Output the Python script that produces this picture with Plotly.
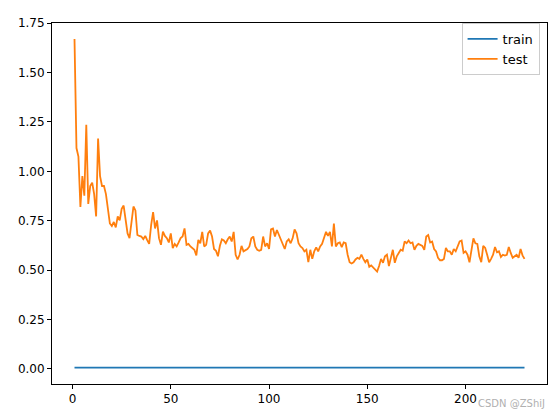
import plotly.graph_objects as go

test_loss = [
    1.67, 1.118, 1.075, 0.82, 0.976, 0.877, 1.236, 0.835, 0.926, 0.943,
    0.885, 0.772, 1.166, 0.976, 0.926, 0.926, 0.885, 0.802, 0.736, 0.723,
    0.744, 0.716, 0.772, 0.752, 0.81, 0.827, 0.761, 0.686, 0.662, 0.761,
    0.822, 0.802, 0.678, 0.673, 0.67, 0.657, 0.673, 0.652, 0.633, 0.728,
    0.794, 0.711, 0.752, 0.662, 0.628, 0.695, 0.673, 0.662, 0.64, 0.686,
    0.612, 0.633, 0.62, 0.64, 0.662, 0.67, 0.711, 0.628, 0.633, 0.62,
    0.612, 0.603, 0.574, 0.653, 0.636, 0.694, 0.62, 0.628, 0.686, 0.70,
    0.67, 0.607, 0.598, 0.57, 0.623, 0.656, 0.65, 0.636, 0.656, 0.67,
    0.645, 0.694, 0.578, 0.554, 0.578, 0.623, 0.595, 0.603, 0.607, 0.62,
    0.661, 0.67, 0.62, 0.603, 0.598, 0.603, 0.67, 0.62, 0.636, 0.607,
    0.706, 0.711, 0.67, 0.703, 0.678, 0.661, 0.628, 0.607, 0.645, 0.656,
    0.636, 0.661, 0.706, 0.686, 0.636, 0.62, 0.612, 0.595, 0.603, 0.54,
    0.603, 0.557, 0.595, 0.615, 0.595, 0.62, 0.633, 0.661, 0.694, 0.673,
    0.694, 0.62, 0.736, 0.62, 0.636, 0.64, 0.617, 0.64, 0.636, 0.578,
    0.54, 0.534, 0.54, 0.554, 0.562, 0.557, 0.578, 0.557, 0.54, 0.554,
    0.517, 0.524, 0.512, 0.501, 0.493, 0.521, 0.557, 0.537, 0.57, 0.578,
    0.521, 0.562, 0.603, 0.537, 0.57, 0.587, 0.603, 0.598, 0.645, 0.636,
    0.65, 0.636, 0.64, 0.603, 0.623, 0.633, 0.628, 0.623, 0.603, 0.67,
    0.678, 0.64, 0.645, 0.607, 0.595, 0.562, 0.55, 0.55, 0.557, 0.612,
    0.595, 0.595, 0.578, 0.607, 0.595, 0.62, 0.645, 0.65, 0.587, 0.595,
    0.578, 0.54, 0.603, 0.661, 0.636, 0.633, 0.57, 0.54, 0.623, 0.612,
    0.578, 0.54, 0.557, 0.578, 0.617, 0.59, 0.595, 0.567, 0.578, 0.574,
    0.578, 0.617, 0.587, 0.562, 0.57, 0.578, 0.562, 0.607, 0.575, 0.557,
]
epochs = list(range(1, len(test_loss) + 1))
train_level = 0.006
train_loss = [train_level for _ in epochs]

x_ticks = [0, 50, 100, 150, 200]
y_ticks = [0.00, 0.25, 0.50, 0.75, 1.00, 1.25, 1.50, 1.75]

fig = go.Figure()
fig.add_trace(go.Scatter(x=epochs, y=train_loss, mode="lines", name="train",
                         line=dict(color="#1f77b4", width=1.8)))
fig.add_trace(go.Scatter(x=epochs, y=test_loss, mode="lines", name="test",
                         line=dict(color="#ff7f0e", width=1.8)))

axis_common = dict(showline=True, linecolor="black", linewidth=1, mirror=True,
                   ticks="outside", ticklen=4, tickwidth=1, tickcolor="black",
                   showgrid=False, zeroline=False,
                   tickfont=dict(family="DejaVu Sans", size=12, color="black"))

fig.update_layout(
    width=548, height=410,
    margin=dict(l=44, r=9, t=8, b=34),
    paper_bgcolor="white", plot_bgcolor="white",
    font=dict(family="DejaVu Sans", size=12, color="black"),
    xaxis=dict(range=[-10.45, 241.45], tickvals=x_ticks, **axis_common),
    yaxis=dict(range=[-0.0764, 1.751], tickvals=y_ticks, tickformat=".2f", **axis_common),
    legend=dict(x=0.985, y=1.0, xanchor="right", yanchor="top",
                bgcolor="rgba(255,255,255,0.8)", bordercolor="#cccccc", borderwidth=1,
                font=dict(family="DejaVu Sans", size=13), tracegroupgap=0),
    showlegend=True,
)
fig.add_annotation(text="CSDN @ZShiJ", xref="paper", yref="paper", x=1.0, y=-0.055,
                   xanchor="right", yanchor="middle", showarrow=False,
                   font=dict(family="DejaVu Sans", size=10, color="#b0b0b0"))

fig.write_html("out.html")
